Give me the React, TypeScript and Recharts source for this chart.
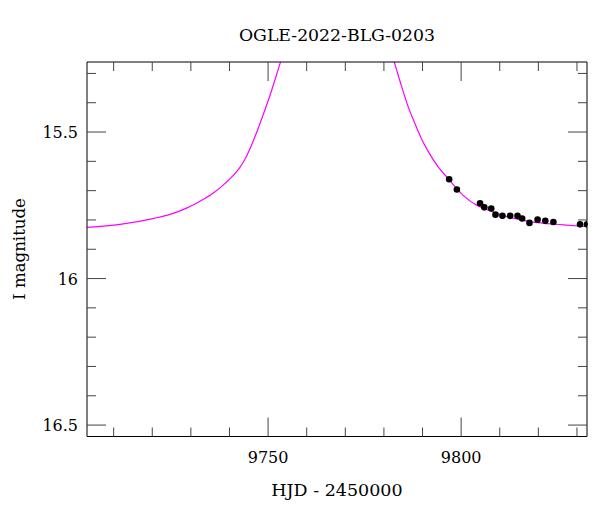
import React from "react";
import { ComposedChart, ErrorBar, Line, Scatter, XAxis, YAxis } from "recharts";

const title = "OGLE-2022-BLG-0203";
const xLabel = "HJD - 2450000";
const yLabel = "I magnitude";

const xTicks = [9710, 9720, 9730, 9740, 9750, 9760, 9770, 9780, 9790, 9800, 9810, 9820, 9830];
const yTicks = [15.3, 15.4, 15.5, 15.6, 15.7, 15.8, 15.9, 16, 16.1, 16.2, 16.3, 16.4, 16.5];

// model curve, rising branch and falling branch
const riseHjd = [
  9703.12, 9711.67, 9720.47, 9724.62, 9729.02, 9731.09, 9733.68, 9736.27, 9738.86, 9741.45,
  9742.75, 9744.04, 9745.34, 9746.63, 9747.93, 9749.22, 9750.52, 9751.81, 9753.11, 9754.14
];
const riseMag = [
  15.8253, 15.815, 15.7945, 15.7809, 15.7587, 15.7457, 15.7263, 15.7038, 15.6751, 15.641,
  15.6195, 15.5922, 15.5563, 15.5154, 15.4703, 15.4232, 15.3737, 15.3208, 15.2655, 15.2201
];
const fallHjd = [9781.7, 9782.65, 9784.6, 9786.3, 9788.0, 9789.7, 9791.5, 9794.0, 9796.6, 9798.8, 9800.6, 9809.2, 9817.9, 9826.5, 9832.6];
const fallMag = [15.22, 15.26, 15.345, 15.414, 15.47, 15.522, 15.567, 15.618, 15.658, 15.692, 15.717, 15.777, 15.806, 15.817, 15.823];

// OGLE photometry
const obsHjd = [9796.9, 9798.9, 9804.9, 9806.0, 9807.8, 9808.9, 9810.7, 9812.7, 9814.6, 9815.8, 9817.7, 9819.8, 9821.8, 9823.9, 9830.8, 9832.6];
const obsMag = [15.661, 15.696, 15.743, 15.757, 15.761, 15.782, 15.786, 15.786, 15.786, 15.795, 15.81, 15.799, 15.803, 15.807, 15.815, 15.815];
const obsErr = [0.005, 0.005, 0.005, 0.005, 0.005, 0.005, 0.005, 0.005, 0.005, 0.005, 0.005, 0.005, 0.005, 0.005, 0.005, 0.005];

const riseData = riseHjd.map((t, i) => ({ t, mag: riseMag[i] }));
const fallData = fallHjd.map((t, i) => ({ t, mag: fallMag[i] }));
const obsData = obsHjd.map((t, i) => ({ t, mag: obsMag[i], err: obsErr[i] }));

const FONT = "DejaVu Serif";
const TICK_COLOR = "#444";

const isMajorX = (v: number) => v % 50 === 0;
const isMajorY = (v: number) => Math.abs(v * 2 - Math.round(v * 2)) < 1e-6;

const BottomTick = (props: any) => {
  const { x, y, payload } = props;
  const major = isMajorX(payload.value);
  return (
    <g>
      <line x1={x} x2={x} y1={y} y2={y - (major ? 19 : 9)} stroke={TICK_COLOR} />
      {major && (
        <text x={x} y={y + 26.5} textAnchor="middle" fontFamily={FONT} fontSize={16} fill="#000">
          {payload.value}
        </text>
      )}
    </g>
  );
};

const TopTick = (props: any) => {
  const { x, y, payload } = props;
  const major = isMajorX(payload.value);
  return <line x1={x} x2={x} y1={y} y2={y + (major ? 19 : 9)} stroke={TICK_COLOR} />;
};

const LeftTick = (props: any) => {
  const { x, y, payload } = props;
  const major = isMajorY(payload.value);
  return (
    <g>
      <line x1={x} x2={x + (major ? 19 : 9)} y1={y} y2={y} stroke={TICK_COLOR} />
      {major && (
        <text x={x - 9} y={y + 6} textAnchor="end" fontFamily={FONT} fontSize={16} fill="#000">
          {payload.value}
        </text>
      )}
    </g>
  );
};

const RightTick = (props: any) => {
  const { x, y, payload } = props;
  const major = isMajorY(payload.value);
  return <line x1={x} x2={x - (major ? 19 : 9)} y1={y} y2={y} stroke={TICK_COLOR} />;
};

const Dot = (props: any) => <circle cx={props.cx} cy={props.cy} r={3.3} fill="#000" />;

export default function App() {
  return (
    <div style={{ position: "absolute", left: 0, top: 0, width: 600, height: 512, background: "#fff" }}>
      <ComposedChart width={600} height={512} margin={{ top: 32, right: 0, bottom: 0, left: 0 }}>
        <XAxis
          xAxisId="b"
          dataKey="t"
          type="number"
          domain={[9703.1, 9832.6]}
          allowDataOverflow
          ticks={xTicks}
          interval={0}
          height={75.5}
          tickSize={0}
          tickMargin={0}
          tickLine={false}
          tick={<BottomTick />}
          axisLine={{ stroke: "#000" }}
        />
        <XAxis
          xAxisId="top"
          orientation="top"
          dataKey="t"
          type="number"
          domain={[9703.1, 9832.6]}
          allowDataOverflow
          ticks={xTicks}
          interval={0}
          height={30}
          tickSize={0}
          tickMargin={0}
          tickLine={false}
          tick={<TopTick />}
          axisLine={{ stroke: "#000" }}
        />
        <YAxis
          yAxisId="l"
          dataKey="mag"
          type="number"
          reversed
          domain={[15.261, 16.539]}
          allowDataOverflow
          ticks={yTicks}
          interval={0}
          width={87}
          tickSize={0}
          tickMargin={0}
          tickLine={false}
          tick={<LeftTick />}
          axisLine={{ stroke: "#000" }}
        />
        <YAxis
          yAxisId="r"
          orientation="right"
          dataKey="mag"
          type="number"
          reversed
          domain={[15.261, 16.539]}
          allowDataOverflow
          ticks={yTicks}
          interval={0}
          width={13}
          tickSize={0}
          tickMargin={0}
          tickLine={false}
          tick={<RightTick />}
          axisLine={{ stroke: "#000" }}
        />
        <Line
          xAxisId="b"
          yAxisId="l"
          data={riseData}
          dataKey="mag"
          type="monotone"
          stroke="#ff00ff"
          strokeWidth={1.2}
          dot={false}
          isAnimationActive={false}
        />
        <Line
          xAxisId="b"
          yAxisId="l"
          data={fallData}
          dataKey="mag"
          type="monotone"
          stroke="#ff00ff"
          strokeWidth={1.2}
          dot={false}
          isAnimationActive={false}
        />
        <Scatter
          xAxisId="b"
          yAxisId="l"
          data={obsData}
          dataKey="mag"
          shape={<Dot />}
          isAnimationActive={false}
        >
          <ErrorBar dataKey="err" direction="y" width={0} stroke="#000" strokeWidth={1.5} />
        </Scatter>
      </ComposedChart>
      <svg width={600} height={512} style={{ position: "absolute", left: 0, top: 0, pointerEvents: "none" }}>
        <text x={337} y={41} textAnchor="middle" fontFamily={FONT} fontSize={17.3} fill="#000">
          {title}
        </text>
        <text x={337} y={496} textAnchor="middle" fontFamily={FONT} fontSize={17.5} fill="#000">
          {xLabel}
        </text>
        <text
          x={25}
          y={249}
          transform="rotate(-90 25 249)"
          textAnchor="middle"
          fontFamily={FONT}
          fontSize={16.6}
          fill="#000"
        >
          {yLabel}
        </text>
      </svg>
    </div>
  );
}
